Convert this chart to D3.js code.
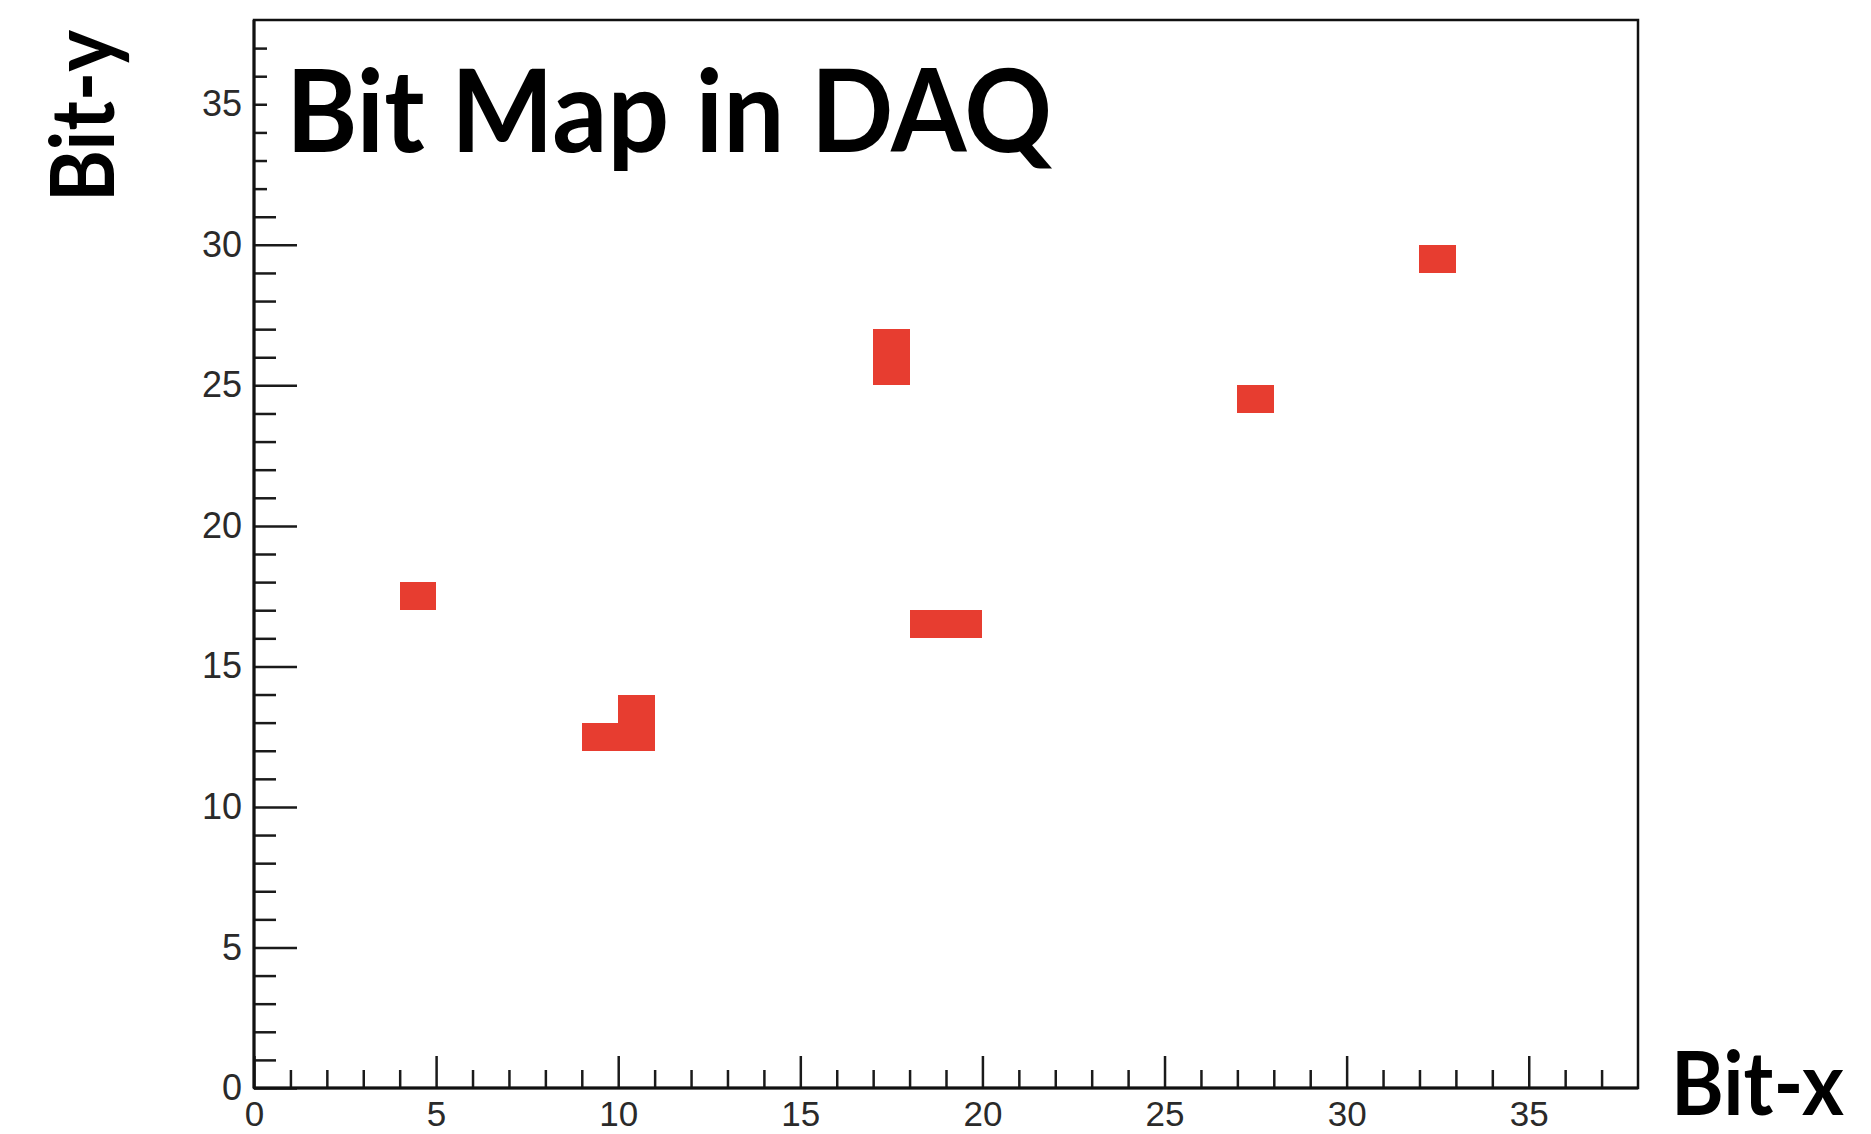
<!DOCTYPE html>
<html>
<head>
<meta charset="utf-8">
<script src="https://cdn.jsdelivr.net/npm/d3@7"></script>
<style>
  html, body { margin: 0; padding: 0; background: #fff; }
  svg { display: block; }
</style>
</head>
<body>
<svg id="chart" width="1871" height="1134"></svg>
<script>
// Fired bits: column (Bit-x) and row (Bit-y) index of each filled cell
const cellX = [4, 9, 10, 10, 17, 17, 18, 19, 27, 32];
const cellY = [17, 12, 12, 13, 25, 26, 16, 16, 24, 29];

// Axis ranges and tick values
const xRange = [0, 38];
const yRange = [0, 38];
const xMajorTicks = [0, 5, 10, 15, 20, 25, 30, 35];
const yMajorTicks = [0, 5, 10, 15, 20, 25, 30, 35];
const minorTicks = d3.range(0, 38);

const titleText = "Bit Map in DAQ";
const xTitle = "Bit-x";
const yTitle = "Bit-y";

const frame = { left: 254, right: 1638, top: 20, bottom: 1088 };
const cellColor = "#e73d30";

const svg = d3.select("#chart");

const x = d3.scaleLinear().domain(xRange).range([frame.left, frame.right]);
const y = d3.scaleLinear().domain(yRange).range([frame.bottom, frame.top]);

// Cells (crisp edges so neighbouring cells merge without seams)
const cells = cellX.map((cx, i) => ({ cx, cy: cellY[i] }));
svg.append("g")
  .attr("shape-rendering", "crispEdges")
  .selectAll("rect")
  .data(cells)
  .join("rect")
  .attr("x", d => Math.round(x(d.cx)))
  .attr("y", d => Math.round(y(d.cy + 1)))
  .attr("width", d => Math.round(x(d.cx + 1)) - Math.round(x(d.cx)))
  .attr("height", d => Math.round(y(d.cy)) - Math.round(y(d.cy + 1)))
  .attr("fill", cellColor);

// Frame
svg.append("rect")
  .attr("x", frame.left)
  .attr("y", frame.top)
  .attr("width", frame.right - frame.left)
  .attr("height", frame.bottom - frame.top)
  .attr("fill", "none")
  .attr("stroke", "#111")
  .attr("stroke-width", 2.5);

const tickFont = "'Liberation Sans', Arial, Helvetica, sans-serif";

function styleAxis(size) {
  return g => {
    g.select(".domain").remove();
    g.selectAll(".tick line").attr("stroke", "#1a1a1a").attr("stroke-width", 2.5);
    g.selectAll(".tick text")
      .attr("fill", "#2a2a2a")
      .style("font-family", tickFont)
      .style("font-size", size + "px");
  };
}

// X axis: minor ticks, then major ticks with labels (ticks point inward)
svg.append("g")
  .attr("transform", `translate(0,${frame.bottom})`)
  .call(d3.axisBottom(x).tickValues(minorTicks.filter(v => v % 5 !== 0))
    .tickSizeInner(-18).tickSizeOuter(0).tickFormat(""))
  .call(styleAxis(35));

svg.append("g")
  .attr("transform", `translate(0,${frame.bottom})`)
  .call(d3.axisBottom(x).tickValues(xMajorTicks)
    .tickSizeInner(-32).tickSizeOuter(0).tickPadding(13).tickFormat(d3.format("d")))
  .call(styleAxis(35));

// Y axis
svg.append("g")
  .attr("transform", `translate(${frame.left},0)`)
  .call(d3.axisLeft(y).tickValues(minorTicks.filter(v => v % 5 !== 0))
    .tickSizeInner(-22).tickSizeOuter(0).tickFormat(""))
  .call(styleAxis(36));

svg.append("g")
  .attr("transform", `translate(${frame.left},0)`)
  .call(d3.axisLeft(y).tickValues(yMajorTicks)
    .tickSizeInner(-43).tickSizeOuter(0).tickPadding(12).tickFormat(d3.format("d")))
  .call(styleAxis(36));

// Axis lines drawn over the tick roots
svg.append("line")
  .attr("x1", frame.left).attr("x2", frame.right)
  .attr("y1", frame.bottom).attr("y2", frame.bottom)
  .attr("stroke", "#111").attr("stroke-width", 3);
svg.append("line")
  .attr("x1", frame.left).attr("x2", frame.left)
  .attr("y1", frame.top).attr("y2", frame.bottom)
  .attr("stroke", "#111").attr("stroke-width", 3);

// Title box (white pave that sits over the upper ticks)
svg.append("rect")
  .attr("x", 267).attr("y", 28)
  .attr("width", 800).attr("height", 172)
  .attr("fill", "#fff");

const titleFont = "Lato, 'Open Sans', sans-serif";

svg.append("text")
  .attr("x", 286)
  .attr("y", 152)
  .attr("fill", "#000")
  .style("font-family", titleFont)
  .style("font-weight", 700)
  .style("font-size", "114px")
  .attr("textLength", 766)
  .attr("lengthAdjust", "spacingAndGlyphs")
  .text(titleText);

// Axis titles
svg.append("text")
  .attr("x", 1671)
  .attr("y", 1115)
  .attr("fill", "#000")
  .style("font-family", titleFont)
  .style("font-weight", 700)
  .style("font-size", "88px")
  .attr("textLength", 173)
  .attr("lengthAdjust", "spacingAndGlyphs")
  .text(xTitle);

svg.append("text")
  .attr("transform", "translate(114,202) rotate(-90)")
  .attr("fill", "#000")
  .style("font-family", titleFont)
  .style("font-weight", 700)
  .style("font-size", "88px")
  .attr("textLength", 172)
  .attr("lengthAdjust", "spacingAndGlyphs")
  .text(yTitle);
</script>
</body>
</html>
